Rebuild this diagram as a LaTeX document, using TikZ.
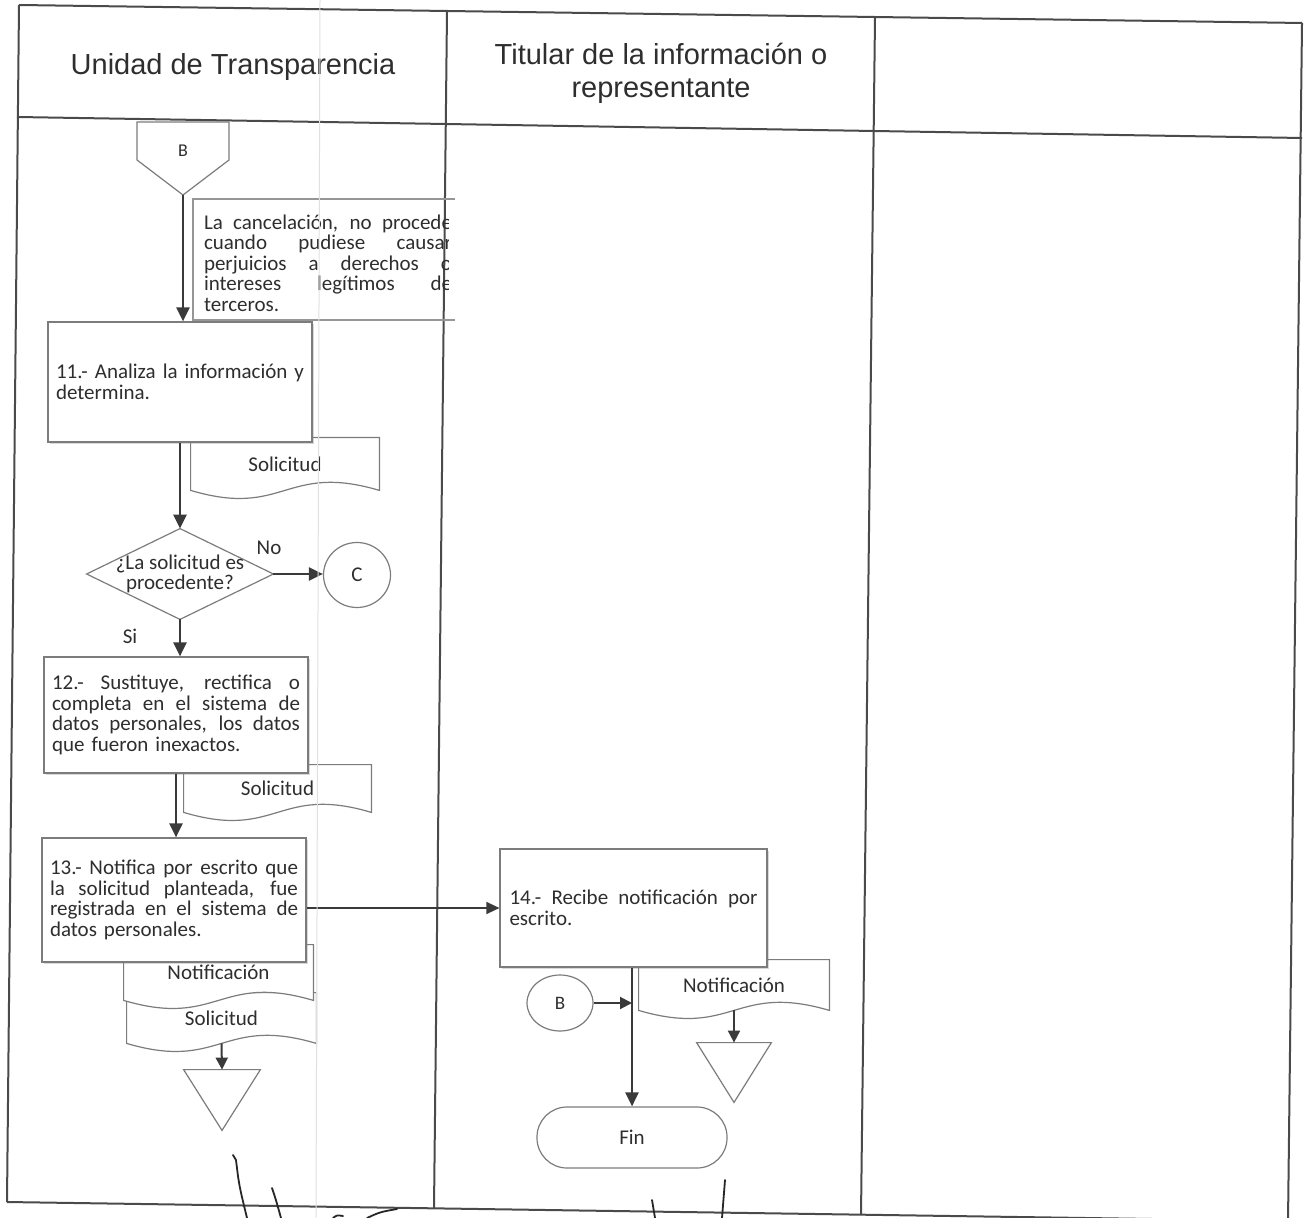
\documentclass[tikz,border=0pt]{standalone}
\usepackage{fontspec}
\setmainfont{Carlito}
\newfontfamily\headfont{Liberation Sans}
\usetikzlibrary{positioning,arrows.meta,calc,shapes.geometric,backgrounds,shadows}

\definecolor{ink}{HTML}{2E2E2E}
\definecolor{rule}{HTML}{4A4A4A}
\definecolor{edge}{HTML}{7C7C7C}
\definecolor{flowc}{HTML}{3A3A3A}
% one justified line of a step text
\newcommand\jline[1]{\makebox[124pt][s]{\spaceskip=\fontdimen2\font plus 1fil\relax #1}}

\begin{document}
\begin{tikzpicture}[x=0.5pt, y=-0.5pt, text=ink,
  font=\fontsize{10.5}{10.25}\selectfont,
  lane/.style={draw=rule, line width=1pt},
  hd/.style={font=\headfont\fontsize{14.5}{16.5}\selectfont, align=center},
  proc/.style={draw=edge, fill=white, line width=.6pt, inner sep=0pt,
    minimum width=132pt, minimum height=60pt, text width=124pt,
    drop shadow={shadow xshift=1.2pt, shadow yshift=-1.2pt, opacity=.3}},
  doc/.style={inner sep=0pt, minimum width=94pt, minimum height=26pt},
  shp/.style={draw=edge, fill=white, line width=.6pt},
  flow/.style={draw=flowc, line width=1.2pt, -{Triangle[length=7pt,width=6.5pt]}},
  flowthin/.style={draw=flowc, line width=.7pt, -{Triangle[length=6.5pt,width=6pt]}},
  flowsmall/.style={draw=flowc, line width=1pt, -{Triangle[length=6pt,width=6pt]}},
  lbl/.style={font=\fontsize{9}{10}\selectfont, inner sep=0pt},
  sig/.style={draw=black!85, line width=.9pt, line cap=round}]

\useasboundingbox (0,0) rectangle (1304,1218);

% table frame (slightly skewed scan)
\draw[lane] (19,5) -- (1302,23);
\draw[lane] (17,117) -- (1302,138);
\draw[lane] (7,1202) -- (1288,1221);
\draw[lane] (19,5) -- (7,1202);
\draw[lane] (447,11) -- (434,1208);
\draw[lane] (875,17) -- (861,1215);
\draw[lane] (1302,23) -- (1288,1221);

\node[hd] (hdUT) at (233,67) {Unidad de Transparencia};
\node[hd] (hdTit) at (661,73) {Titular de la información o\\representante};

% off-page connector B
\draw[shp] (137,122) -- (229,122) -- (229,160) -- (183,195) -- (137,160) -- cycle;
\node[lbl] (offB) at (183,151) {B};
\coordinate (offBtip) at (183,195);

% note on cancelacion
\begin{scope}
  \clip (190,190) rectangle (448,330);
  \node[text width=124pt, inner sep=0pt] (nota) at (328,263)
    {\jline{La cancelación, no procede}\\
     \jline{cuando pudiese causar}\\
     \jline{perjuicios a derechos o}\\
     \jline{intereses legítimos de}\\
     terceros.};
\end{scope}
\draw[draw=edge!80, line width=.6pt] (455,199) -- (193,199) -- (193,320) -- (455,320);

% documents go under the boxes
\node[doc] (docA) at (285,464) {Solicitud};
\node[doc, minimum width=93.5pt, minimum height=23.5pt] (docB) at (277.5,788.5) {Solicitud};
\node[doc, minimum width=94.5pt, minimum height=25pt] (docD) at (221.5,1018) {Solicitud};
\node[doc, minimum width=94.5pt, minimum height=27.5pt] (docC) at (218.5,972.5) {Notificación};
\node[doc, minimum width=95pt, minimum height=25pt] (docE) at (734,985) {Notificación};
\begin{scope}[on background layer]
  \foreach \d in {docA,docB,docD,docC,docE}
    \draw[shp] (\d.north west) -- (\d.south west)
      .. controls ($(\d.south)+(0,28)$) and ($(\d.south)+(0,-28)$) .. (\d.south east)
      -- (\d.north east) -- cycle;
\end{scope}

% steps
\node[proc] (r11) at (180,382)
  {\jline{11.- Analiza la información y}\\ determina.};

\node[inner sep=0pt, minimum width=93pt, minimum height=45pt, align=center] (dec) at (180,574)
  {¿La solicitud es\\procedente?};
\begin{scope}[on background layer]
  \draw[shp] (dec.north) -- (dec.east) -- (dec.south) -- (dec.west) -- cycle;
\end{scope}
\node[inner sep=0pt] (lblNo) at (269,548) {No};
\node[inner sep=0pt] (lblSi) at (130,636) {Si};
\node[shp, ellipse, inner sep=0pt, minimum width=33.5pt, minimum height=32.5pt] (cC) at (357,575) {C};

\node[proc, minimum height=58pt] (r12) at (176,715)
  {\jline{12.- Sustituye, rectifica o}\\
   \jline{completa en el sistema de}\\
   \jline{datos personales, los datos}\\
   que fueron inexactos.};

\node[proc, minimum height=62pt] (r13) at (174,900)
  {\jline{13.- Notifica por escrito que}\\
   \jline{la solicitud planteada, fue}\\
   \jline{registrada en el sistema de}\\
   datos personales.};

\node[proc, minimum width=133.5pt, minimum height=59pt] (r14) at (633.5,908)
  {\jline{14.- Recibe notificación por}\\ escrito.};

% archive triangles
\node[inner sep=0pt, minimum width=38pt, minimum height=30pt] (arch1) at (222,1100) {};
\draw[shp] (arch1.north west) -- (arch1.north east) -- (arch1.south) -- cycle;
\node[inner sep=0pt, minimum width=37pt, minimum height=29.5pt] (arch2) at (734,1072.5) {};
\draw[shp] (arch2.north west) -- (arch2.north east) -- (arch2.south) -- cycle;

\node[shp, ellipse, inner sep=0pt, minimum width=33pt, minimum height=28pt, font=\fontsize{9.5}{10}\selectfont] (cB) at (560,1003) {B};
\node[shp, rounded corners=15pt, inner sep=0pt, minimum width=95pt, minimum height=30.5pt] (fin) at (632,1137.5) {Fin};

% connectors
\draw[flow] (offBtip) -- (offBtip |- r11.north);
\draw[flow] (r11.south) -- (dec.north);
\draw[flow] (dec.east) -- (dec.east -| cC.west);
\draw[flow] (dec.south) -- (dec.south |- r12.north);
\draw[flow] (r12.south) -- (r12.south |- r13.north);
\draw[flowthin] (r14.west -| r13.east) -- (r14.west);
\draw[flowsmall] (docD.south) -- (arch1.north);
\draw[flowsmall] (docE.south) -- (arch2.north);
\draw[flow] (r14.south -| fin.north) -- (fin.north);
\coordinate (jB) at (cB.east -| fin.north);
\draw[flowsmall] (cB.east) -- (jB);

% signatures
\draw[sig] (233,1155) -- (236,1160) .. controls (239,1185) .. (247,1218);
\draw[sig] (272,1188) .. controls (276,1200) .. (281,1218);
\draw[sig] (333,1218) .. controls (337,1215) .. (343,1216);
\draw[sig] (367,1218) .. controls (380,1212) .. (397,1209);
\draw[sig] (652,1200) -- (655,1218);
\draw[sig] (725,1180) -- (722,1218);

% faint scan streak
\draw[black!12, line width=.5pt] (320,0) -- (316,1218);
\end{tikzpicture}
\end{document}
